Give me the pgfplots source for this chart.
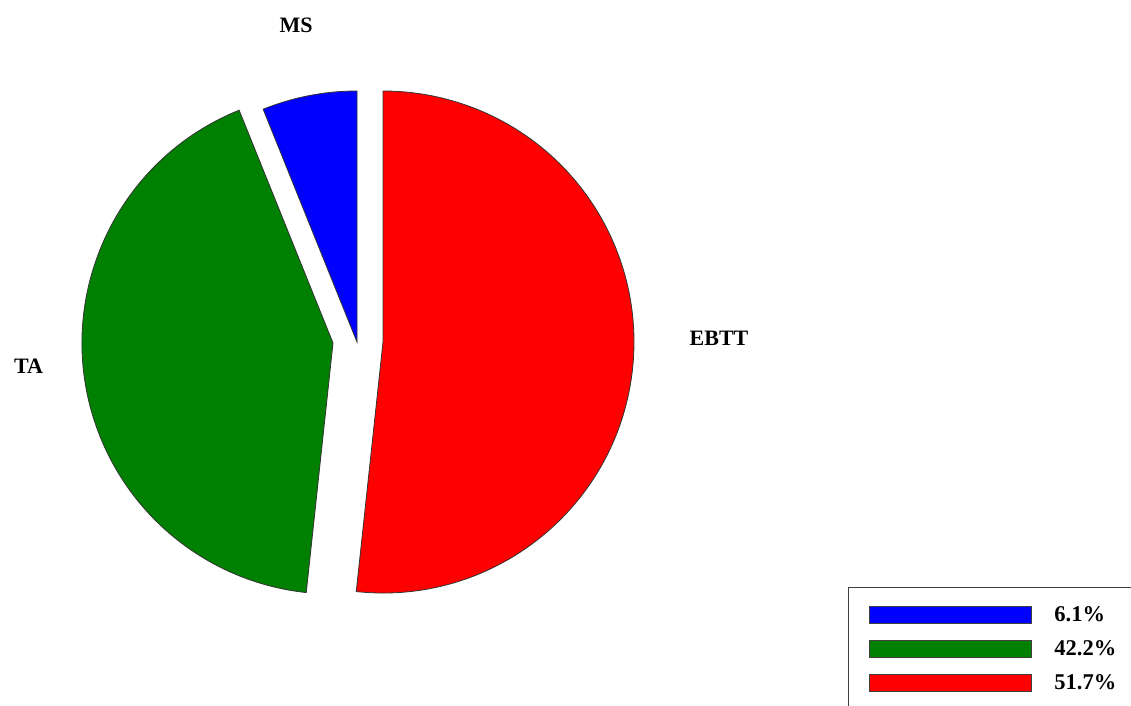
\documentclass[border=0pt]{standalone}
\usepackage{pgfplots}
\usepackage{pgfplotstable}
\pgfplotsset{compat=1.18}
\usepackage{fontspec}
\setmainfont{Liberation Serif}
\definecolor{pieblue}{RGB}{0,0,255}
\definecolor{piegreen}{RGB}{0,128,0}
\definecolor{piered}{RGB}{255,0,0}
% value = share in percent; cx, cy = apex of the (exploded) slice in picture units
\pgfplotstableread{
label value cx cy
MS 6.1 357 363
TA 42.2 333 362
EBTT 51.7 383 363
}\piedata
\begin{document}
\begin{tikzpicture}
\pgfplotstablegetelem{0}{value}\of\piedata \let\vA\pgfplotsretval
\pgfplotstablegetelem{1}{value}\of\piedata \let\vB\pgfplotsretval
\pgfplotstablegetelem{2}{value}\of\piedata \let\vC\pgfplotsretval
\pgfplotstablegetelem{0}{cx}\of\piedata \let\cxA\pgfplotsretval
\pgfplotstablegetelem{1}{cx}\of\piedata \let\cxB\pgfplotsretval
\pgfplotstablegetelem{2}{cx}\of\piedata \let\cxC\pgfplotsretval
\pgfplotstablegetelem{0}{cy}\of\piedata \let\cyA\pgfplotsretval
\pgfplotstablegetelem{1}{cy}\of\piedata \let\cyB\pgfplotsretval
\pgfplotstablegetelem{2}{cy}\of\piedata \let\cyC\pgfplotsretval
\pgfmathsetmacro\aA{90}
\pgfmathsetmacro\aB{\aA+3.6*\vA}
\pgfmathsetmacro\aC{\aB+3.6*\vB}
\pgfmathsetmacro\aD{\aC+3.6*\vC}
\def\R{251}
\useasboundingbox (0,0) rectangle (1131pt,705pt);
\clip (0,0) rectangle (1131pt,705pt);
\begin{axis}[
  at={(0,0)}, anchor=south west,
  width=1131pt, height=705pt, scale only axis,
  xmin=0, xmax=1131, ymin=0, ymax=705,
  hide axis, clip=false, disabledatascaling,
  legend image code/.code={\draw[#1, draw=black!75, line width=0.8pt] (0pt,-8.5pt) rectangle (162pt,8.5pt);},
  legend cell align=left,
  legend style={at={(axis cs:848,118)}, anchor=north west,
    draw=black!75, line width=1.2pt,
    font=\fontsize{22.5}{26}\selectfont\bfseries,
    inner xsep=20pt, inner ysep=10.5pt, row sep=0pt,
    nodes={inner sep=0pt, minimum height=34pt, anchor=west},
    /tikz/every odd column/.append style={column sep=23pt}},
]
\filldraw[fill=pieblue, draw=black!80, line width=0.8pt]
  (axis cs:\cxA,\cyA) -- ++(\aA:\R pt) arc[start angle=\aA, end angle=\aB, radius=\R pt] -- cycle;
\filldraw[fill=piegreen, draw=black!80, line width=0.8pt]
  (axis cs:\cxB,\cyB) -- ++(\aB:\R pt) arc[start angle=\aB, end angle=\aC, radius=\R pt] -- cycle;
\filldraw[fill=piered, draw=black!80, line width=0.8pt]
  (axis cs:\cxC,\cyC) -- ++(\aC:\R pt) arc[start angle=\aC, end angle=\aD, radius=\R pt] -- cycle;
\addlegendimage{fill=pieblue}
\addlegendentry{\vA\%}
\addlegendimage{fill=piegreen}
\addlegendentry{\vB\%}
\addlegendimage{fill=piered}
\addlegendentry{\vC\%}
\node[font=\fontsize{22}{26}\selectfont\bfseries] at (axis cs:296,680) {MS};
\node[font=\fontsize{22}{26}\selectfont\bfseries] at (axis cs:28.5,339) {TA};
\node[font=\fontsize{22}{26}\selectfont\bfseries] at (axis cs:719,366.5) {EBTT};
\end{axis}
\end{tikzpicture}
\end{document}
